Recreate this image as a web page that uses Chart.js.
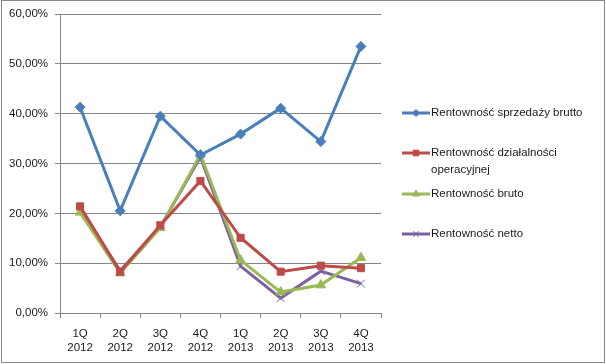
<!DOCTYPE html>
<html><head><meta charset="utf-8">
<script src="https://cdn.jsdelivr.net/npm/chart.js@4"></script>
<style>
html,body{margin:0;padding:0;background:#fff;}
#wrap{position:relative;width:606px;height:364px;}
#frame{position:absolute;left:1px;top:0px;width:602px;height:361px;border:1px solid #878787;pointer-events:none;}
</style></head>
<body><div id="wrap"><canvas id="c" width="606" height="364"></canvas><div id="frame"></div></div>
<script>
const categories = [["1Q","2012"],["2Q","2012"],["3Q","2012"],["4Q","2012"],["1Q","2013"],["2Q","2013"],["3Q","2013"],["4Q","2013"]];
const seriesNames = ["Rentowność sprzedaży brutto", "Rentowność działalności operacyjnej", "Rentowność bruto", "Rentowność netto"];
const sprzedazyBrutto = [41.3, 20.5, 39.5, 31.7, 35.9, 41.1, 34.4, 53.5];
const operacyjnej = [21.4, 8.3, 17.6, 26.5, 15.1, 8.3, 9.5, 9.0];
const bruto = [20.2, 8.0, 17.1, 31.8, 10.6, 4.2, 5.6, 11.1];
const netto = [20.5, 8.5, 17.3, 31.3, 9.4, 3.0, 8.4, 5.9];
const yTicks = [0, 10, 20, 30, 40, 50, 60];

const colors = ["#4A7EBB", "#BE4B48", "#98B954", "#7D60A0"];
const styles = ["rectRot", "rect", "triangle", "crossRot"];
const radii = [5, 5, 5.5, 5.5];
const legendRadii = [3.5, 4, 4, 4];
const allData = [sprzedazyBrutto, operacyjnej, bruto, netto];
const FONT = '"Liberation Sans", Arial, sans-serif';

const fmt = v => v.toFixed(2).replace('.', ',') + '%';

const legendPlugin = {
  id: 'customLegend',
  afterDraw(chart) {
    const ctx = chart.ctx;
    const items = [
      {y: 113, lines: [seriesNames[0]]},
      {y: 153, lines: ["Rentowność działalności", "operacyjnej"]},
      {y: 194, lines: [seriesNames[2]]},
      {y: 234, lines: [seriesNames[3]]}
    ];
    ctx.save();
    items.forEach((it, i) => {
      ctx.strokeStyle = colors[i];
      ctx.lineWidth = 3;
      ctx.beginPath(); ctx.moveTo(402, it.y); ctx.lineTo(430, it.y); ctx.stroke();
      ctx.save();
      ctx.fillStyle = colors[i]; ctx.strokeStyle = colors[i]; ctx.lineWidth = 1;
      Chart.helpers.drawPoint(ctx, {pointStyle: styles[i], radius: legendRadii[i], rotation: 0, borderWidth: 1}, 416, it.y);
      ctx.restore();
      ctx.fillStyle = '#1a1a1a';
      ctx.font = '11.5px ' + FONT;
      ctx.textBaseline = 'middle';
      ctx.textAlign = 'left';
      it.lines.forEach((t, k) => ctx.fillText(t, 431, it.y + k * 17));
    });
    ctx.restore();
  }
};

new Chart(document.getElementById('c'), {
  type: 'line',
  data: {
    labels: categories,
    datasets: allData.map((d, i) => ({
      label: seriesNames[i],
      data: d,
      borderColor: colors[i],
      backgroundColor: colors[i],
      borderWidth: 3,
      pointStyle: styles[i],
      pointRadius: radii[i],
      pointBorderColor: colors[i],
      pointBackgroundColor: colors[i],
      pointBorderWidth: 1,
      tension: 0,
      fill: false
    }))
  },
  options: {
    responsive: false,
    animation: false,
    devicePixelRatio: 1,
    layout: {padding: {top: 14, right: 225, left: 0, bottom: 0}},
    plugins: {legend: {display: false}, tooltip: {enabled: false}},
    scales: {
      x: {
        offset: true,
        grid: {display: true, offset: true, drawOnChartArea: false, tickLength: 5, color: '#868686', lineWidth: 1},
        border: {display: true, color: '#868686', width: 1},
        ticks: {color: '#1a1a1a', font: {family: FONT, size: 11.5, lineHeight: 1.2}, maxRotation: 0, padding: 9},
        afterFit(s) { s.height = 51; }
      },
      y: {
        min: 0, max: 60,
        afterBuildTicks(s) { s.ticks = yTicks.map(v => ({value: v})); },
        grid: {color: '#868686', lineWidth: 1, tickLength: 5, drawTicks: true},
        border: {display: true, color: '#868686', width: 1},
        ticks: {color: '#1a1a1a', font: {family: FONT, size: 11.5}, padding: 7, callback: v => fmt(v)},
        afterFit(s) { s.width = 60; }
      }
    }
  },
  plugins: [legendPlugin]
});
</script></body></html>
